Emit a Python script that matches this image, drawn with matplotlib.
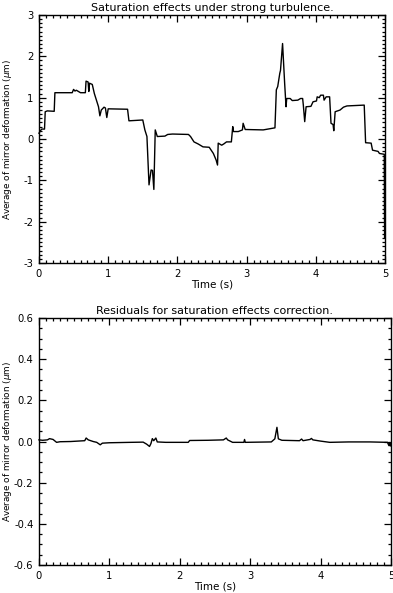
import numpy as np
import matplotlib
matplotlib.use('Agg')
import matplotlib.pyplot as plt
from matplotlib.ticker import AutoMinorLocator, MultipleLocator

# --- 1. Data ---
# Top panel: average mirror deformation under strong turbulence
top_time = [0.00, 0.02, 0.04, 0.08, 0.09, 0.12, 0.22, 0.23, 0.48, 0.50,
            0.52, 0.54, 0.60, 0.67, 0.68, 0.71, 0.72, 0.73, 0.77, 0.80,
            0.83, 0.86, 0.88, 0.90, 0.94, 0.96, 0.98, 1.00, 1.28, 1.30,
            1.50, 1.53, 1.56, 1.59, 1.62, 1.64, 1.66, 1.68, 1.71, 1.82,
            1.86, 1.93, 2.16, 2.19, 2.24, 2.30, 2.37, 2.46, 2.52, 2.56,
            2.58, 2.59, 2.64, 2.67, 2.71, 2.78, 2.80, 2.81, 2.88, 2.94,
            2.95, 2.98, 3.24, 3.41, 3.43, 3.45, 3.48, 3.49, 3.52, 3.53,
            3.55, 3.57, 3.58, 3.63, 3.66, 3.74, 3.78, 3.81, 3.82, 3.84,
            3.86, 3.93, 3.96, 4.01, 4.02, 4.05, 4.07, 4.11, 4.12, 4.15,
            4.20, 4.22, 4.25, 4.26, 4.28, 4.35, 4.40, 4.45, 4.70, 4.72,
            4.80, 4.82, 4.90, 4.92, 4.99, 4.993, 4.995, 4.997, 5.00]
top_defo = [0.14, 0.20, 0.24, 0.24, 0.66, 0.68, 0.67, 1.12, 1.12, 1.20,
            1.16, 1.18, 1.12, 1.12, 1.40, 1.38, 1.15, 1.35, 1.32, 1.10,
            0.94, 0.78, 0.56, 0.70, 0.77, 0.75, 0.52, 0.73, 0.72, 0.44,
            0.46, 0.22, 0.06, -1.11, -0.75, -0.76, -1.22, 0.22, 0.06, 0.07,
            0.11, 0.12, 0.11, 0.06, -0.07, -0.12, -0.19, -0.20, -0.35, -0.51,
            -0.63, -0.10, -0.15, -0.12, -0.07, -0.07, 0.30, 0.18, 0.18, 0.22,
            0.38, 0.23, 0.22, 0.27, 1.19, 1.27, 1.59, 1.66, 2.31, 1.99,
            1.35, 0.78, 0.98, 0.98, 0.93, 0.94, 0.98, 0.98, 0.82, 0.42,
            0.78, 0.79, 0.90, 0.92, 1.02, 1.00, 1.06, 1.06, 0.94, 1.02,
            1.02, 0.38, 0.35, 0.20, 0.66, 0.70, 0.77, 0.80, 0.82, -0.09,
            -0.10, -0.27, -0.30, -0.35, -0.37, -1.90, -2.40, -1.95, -2.10]

# Bottom panel: residuals after saturation correction
res_time = [0.00, 0.05, 0.12, 0.15, 0.20, 0.25, 0.30, 0.45, 0.65, 0.67,
            0.70, 0.77, 0.82, 0.87, 0.90, 1.00, 1.30, 1.48, 1.53, 1.57,
            1.59, 1.61, 1.63, 1.66, 1.68, 1.80, 2.12, 2.14, 2.40, 2.62,
            2.66, 2.68, 2.75, 2.91, 2.92, 2.93, 3.30, 3.35, 3.38, 3.40,
            3.45, 3.70, 3.73, 3.75, 3.85, 3.87, 3.89, 4.00, 4.13, 4.40,
            4.70, 4.95, 4.97, 4.98, 4.99, 5.00]
res_defo = [0.008, 0.006, 0.008, 0.014, 0.010, -0.004, -0.001, 0.000, 0.004, 0.017,
            0.008, 0.000, -0.004, -0.016, -0.008, -0.006, -0.004, -0.003, -0.013, -0.024,
            -0.010, 0.014, 0.004, 0.017, -0.002, -0.004, -0.004, 0.005, 0.006, 0.008,
            0.017, 0.008, -0.004, -0.004, 0.010, -0.004, -0.002, 0.013, 0.069, 0.013,
            0.006, 0.004, 0.012, 0.004, 0.010, 0.015, 0.008, 0.002, -0.004, -0.002,
            -0.002, -0.004, -0.020, -0.005, -0.022, -0.010]

YLABEL = r'Average of mirror deformation ($\mu$m)'
FS = 7.5

plt.rcParams['axes.unicode_minus'] = False
plt.rcParams['font.family'] = 'DejaVu Sans'

# --- 2. Figure and axes placement ---
fig = plt.figure(figsize=(3.93, 5.93), dpi=100)
ax_top = fig.add_axes([0.0992, 0.5565, 0.8804, 0.4182])
ax_bot = fig.add_axes([0.0992, 0.0472, 0.8957, 0.4165])


def style_axis(ax, ymajor, yminor_div, label_x):
    # IDL-like look: inward ticks on every side
    ax.set_xlim(0, 5)
    ax.xaxis.set_major_locator(MultipleLocator(1))
    ax.xaxis.set_minor_locator(AutoMinorLocator(10))
    ax.yaxis.set_major_locator(MultipleLocator(ymajor))
    ax.yaxis.set_minor_locator(AutoMinorLocator(yminor_div))
    ax.tick_params(which='both', direction='in', top=True, right=True,
                   labelsize=7.2, width=0.9)
    ax.tick_params(which='major', length=5.0, pad=4)
    ax.tick_params(which='minor', length=2.5)
    for sp in ax.spines.values():
        sp.set_linewidth(1.0)
    ax.set_xlabel('Time (s)', fontsize=FS, labelpad=1)
    ax.set_ylabel(YLABEL, fontsize=6.4)
    # fixed label position so both panels line up like the original
    ax.yaxis.set_label_coords(label_x, 0.5)


# --- 3. Top panel ---
ax_top.plot(top_time, top_defo, color='black', lw=1.0, clip_on=False)
ax_top.set_ylim(-3, 3)
style_axis(ax_top, 1, 10, -0.071)
ax_top.set_title('Saturation effects under strong turbulence.', fontsize=FS + 0.5, pad=3)

# --- 4. Bottom panel ---
ax_bot.plot(res_time, res_defo, color='black', lw=1.0, clip_on=False)
ax_bot.set_ylim(-0.6, 0.6)
style_axis(ax_bot, 0.2, 4, -0.070)
ax_bot.yaxis.set_major_formatter(plt.FormatStrFormatter('%.1f'))
ax_bot.set_title('Residuals for saturation effects correction.', fontsize=FS + 0.5, pad=3)

fig.savefig('out.png', dpi=100)
